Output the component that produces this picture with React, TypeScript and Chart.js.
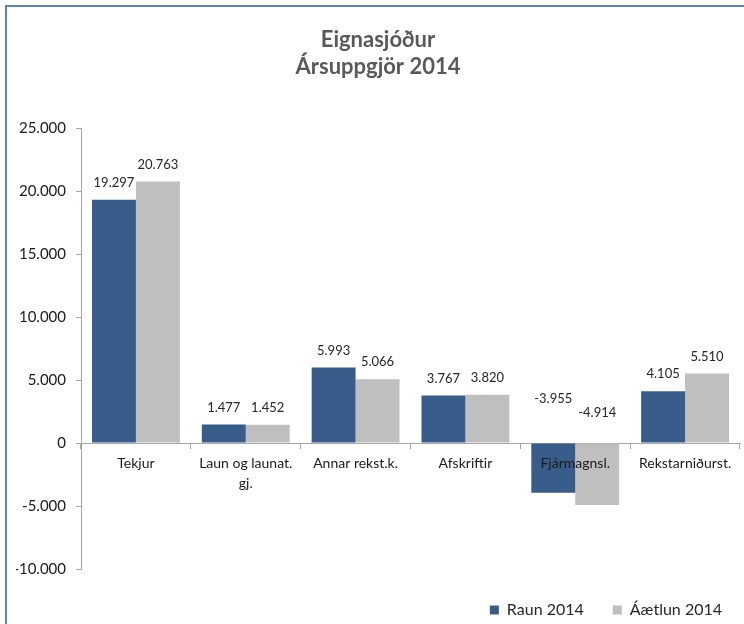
import React, { useEffect, useRef } from "react";
import { Chart, registerables } from "chart.js";

Chart.register(...registerables);

const categories: (string | string[])[] = [
  "Tekjur",
  ["Laun og launat.", "gj."],
  "Annar rekst.k.",
  "Afskriftir",
  "Fjármagnsl.",
  "Rekstarniðurst.",
];
const raun2014 = [19297, 1477, 5993, 3767, -3955, 4105];
const aaetlun2014 = [20763, 1452, 5066, 3820, -4914, 5510];
const seriesNames = ["Raun 2014", "Áætlun 2014"];
const titleLines = ["Eignasjóður", "Ársuppgjör 2014"];
const yMin = -10000;
const yMax = 25000;
const yStep = 5000;

const FONT = "Lato, 'Open Sans', sans-serif";

function fmt(v: number): string {
  const neg = v < 0;
  const s = Math.round(Math.abs(v)).toString();
  const out = s.replace(/\B(?=(\d{3})+(?!\d))/g, ".");
  return (neg ? "-" : "") + out;
}

const dataLabelPlugin = {
  id: "dataLabels",
  afterDatasetsDraw(chart: any) {
    const ctx = chart.ctx;
    const zeroY = chart.scales.y.getPixelForValue(0);
    ctx.save();
    ctx.font = `13px ${FONT}`;
    ctx.fillStyle = "#262626";
    ctx.textAlign = "center";
    ctx.textBaseline = "middle";
    chart.data.datasets.forEach((ds: any, di: number) => {
      const meta = chart.getDatasetMeta(di);
      meta.data.forEach((el: any, i: number) => {
        const v = ds.data[i];
        let y: number;
        if (v >= 0) {
          y = el.y - 17;
        } else {
          y = zeroY - (di === 0 ? 44 : 30);
        }
        ctx.fillText(fmt(v), el.x, y);
      });
    });
    ctx.restore();
  },
};

const legendShiftPlugin = {
  id: "legendShift",
  afterLayout(chart: any) {
    const lg = chart.legend;
    if (lg) {
      lg.left += 11;
      lg.right += 11;
      lg.top += 4;
      lg.bottom += 4;
    }
  },
};

export default function App() {
  const ref = useRef<HTMLCanvasElement>(null);

  useEffect(() => {
    document.body.style.margin = "0";
    const canvas = ref.current!;
    const chart = new Chart(canvas, {
      type: "bar",
      data: {
        labels: categories,
        datasets: [
          {
            label: seriesNames[0],
            data: raun2014,
            backgroundColor: "#385d8a",
            borderWidth: 0,
            categoryPercentage: 0.8,
            barPercentage: 1.0,
          },
          {
            label: seriesNames[1],
            data: aaetlun2014,
            backgroundColor: "#bfbfbf",
            borderWidth: 0,
            categoryPercentage: 0.8,
            barPercentage: 1.0,
          },
        ],
      },
      options: {
        animation: false,
        responsive: false,
        maintainAspectRatio: false,
        layout: { padding: { left: 16, right: 4, top: 0, bottom: 0 } },
        plugins: {
          title: {
            display: true,
            text: titleLines,
            color: "#595959",
            font: { family: FONT, size: 22, weight: "bold", lineHeight: 1.25 },
            padding: { top: 26, bottom: 47 },
          },
          legend: {
            display: true,
            position: "bottom",
            align: "end",
            labels: {
              boxWidth: 9,
              boxHeight: 9,
              padding: 29,
              color: "#262626",
              font: { family: FONT, size: 16 },
            },
          },
          tooltip: { enabled: false },
        },
        scales: {
          x: {
            position: { y: 0 } as any,
            grid: {
              display: true,
              drawOnChartArea: false,
              drawTicks: true,
              tickLength: 5,
              color: "#a6a6a6",
              offset: true,
            },
            border: { display: true, color: "#a6a6a6" },
            ticks: {
              z: 1,
              color: "#1a1a1a",
              font: { family: FONT, size: 14, lineHeight: 1.45 },
              padding: 5,
              maxRotation: 0,
              autoSkip: false,
            },
          },
          y: {
            min: yMin,
            max: yMax,
            afterFit(scale: any) {
              scale.width = 65;
            },
            grid: {
              display: true,
              drawOnChartArea: false,
              drawTicks: true,
              tickLength: 5,
              color: "#a6a6a6",
            },
            border: { display: true, color: "#a6a6a6" },
            ticks: {
              stepSize: yStep,
              color: "#1a1a1a",
              font: { family: FONT, size: 15 },
              padding: 10,
              callback: (v: any) => fmt(Number(v)),
            },
          },
        },
      },
      plugins: [dataLabelPlugin, legendShiftPlugin],
    });
    return () => chart.destroy();
  }, []);

  return (
    <div style={{ position: "fixed", left: 0, top: 0, width: 744, height: 624, background: "#fff" }}>
      <canvas ref={ref} width={744} height={624} style={{ display: "block", width: 744, height: 624 }} />
      <div
        style={{
          position: "absolute",
          left: 5,
          top: 5,
          width: 760,
          height: 700,
          borderLeft: "2px solid #5b82bb",
          borderTop: "2px solid #5b82bb",
          pointerEvents: "none",
        }}
      />
    </div>
  );
}
